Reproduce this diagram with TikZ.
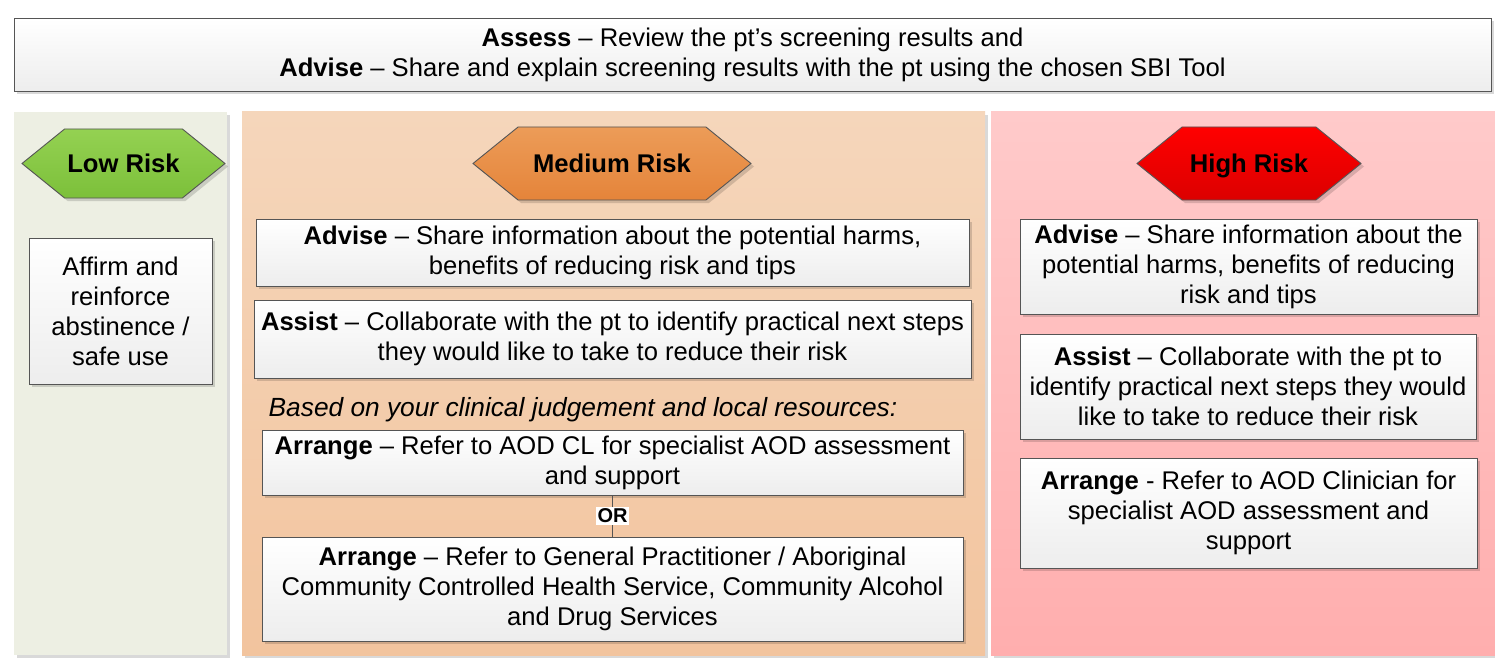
\documentclass[tikz,border=0pt]{standalone}
\usepackage{fontspec}
\setmainfont{Liberation Sans}
\usetikzlibrary{shapes.symbols,shadows}
\definecolor{lowbg}{HTML}{EDEFE3}
\definecolor{medtop}{HTML}{F5D6BB}
\definecolor{medbot}{HTML}{F2C49E}
\definecolor{hightop}{HTML}{FFCACA}
\definecolor{highbot}{HTML}{FFAEAE}
\definecolor{grtop}{HTML}{94D152}
\definecolor{grbot}{HTML}{7CC03A}
\definecolor{ortop}{HTML}{EC9C58}
\definecolor{orbot}{HTML}{E5843A}
\definecolor{rdtop}{HTML}{FF0000}
\definecolor{rdbot}{HTML}{DC0000}
\definecolor{edge}{HTML}{555555}
\tikzset{
  shad/.style={drop shadow={shadow xshift=3pt,shadow yshift=-3pt,fill=black,opacity=0.15}},
  txt/.style={font=\fontsize{25.6}{30}\selectfont},
  box/.style={draw=edge,line width=0.9pt,top color=white,bottom color=black!7,shad,
    align=center,inner sep=0pt,txt},
  panel/.style={draw=none,shad,inner sep=0pt},
  hexa/.style={signal,signal to=east and west,signal pointer angle=78,draw=edge,line width=0.9pt,
    shad,inner sep=0pt,text depth=0pt,font=\fontsize{25.6}{30}\selectfont\bfseries},
}
\begin{document}
\begin{tikzpicture}[x=1pt,y=-1pt]
\useasboundingbox[fill=white] (0,0) rectangle (1495,663);
% panels
\node[panel,fill=lowbg,minimum width=213pt,minimum height=543pt] (lowp) at (120.5,383.5) {};
\node[panel,top color=medtop,bottom color=medbot,minimum width=743pt,minimum height=543pt] (medp) at (613.5,383.5) {};
\node[panel,top color=hightop,bottom color=highbot,minimum width=506pt,minimum height=543pt] (highp) at (1244,383.5) {};
% top box
\node[box,minimum width=1477pt,minimum height=73pt] (top) at (752.5,54.5)
  {\textbf{Assess} – Review the pt’s screening results and\\
   \textbf{Advise} – Share and explain screening results with the pt using the chosen SBI Tool};
% hexagons
\node[hexa,top color=grtop,bottom color=grbot,minimum width=203pt,minimum height=69pt] (lowh) at (123.5,163.5) {Low Risk};
\node[hexa,top color=ortop,bottom color=orbot,minimum width=278pt,minimum height=73pt] (medh) at (612,163.5) {Medium Risk};
\node[hexa,top color=rdtop,bottom color=rdbot,minimum width=224pt,minimum height=73pt] (highh) at (1249,163.5) {High Risk};
% low
\node[box,minimum width=183pt,minimum height=146pt] (lowb) at (120.5,311)
  {Affirm and\\reinforce\\abstinence /\\safe use};
% medium
\node[box,minimum width=713pt,minimum height=67pt] (madv) at (612.5,252.5)
  {\textbf{Advise} – Share information about the potential harms,\\benefits of reducing risk and tips};
\node[box,minimum width=717pt,minimum height=78pt] (mass) at (612.5,339)
  {\textbf{Assist} – Collaborate with the pt to identify practical next steps\\they would like to take to reduce their risk};
\node[font=\fontsize{26.3}{30}\selectfont,inner sep=0pt] (mnote) at (583,410) {\itshape Based on your clinical judgement and local resources:};
\node[box,minimum width=701pt,minimum height=65pt] (marr1) at (612.5,462.5)
  {\textbf{Arrange} – Refer to AOD CL for specialist AOD assessment\\and support};
\node[box,minimum width=701pt,minimum height=104pt] (marr2) at (612.5,589)
  {\textbf{Arrange} – Refer to General Practitioner / Aboriginal\\Community Controlled Health Service, Community Alcohol\\and Drug Services};
\draw[edge,line width=0.9pt] (marr1.south) -- (marr2.north);
\node[fill=white,inner sep=1.5pt,font=\fontsize{20}{24}\selectfont\bfseries] (or) at (612.5,516) {OR};
% high
\node[box,minimum width=457pt,minimum height=95pt] (hadv) at (1248.5,266.5)
  {\textbf{Advise} – Share information about the\\potential harms, benefits of reducing\\risk and tips};
\node[box,minimum width=456pt,minimum height=105pt] (hass) at (1248,386.5)
  {\textbf{Assist} – Collaborate with the pt to\\identify practical next steps they would\\like to take to reduce their risk};
\node[box,minimum width=457pt,minimum height=110pt] (harr) at (1248.5,513)
  {\textbf{Arrange} - Refer to AOD Clinician for\\specialist AOD assessment and\\support};
\end{tikzpicture}
\end{document}
